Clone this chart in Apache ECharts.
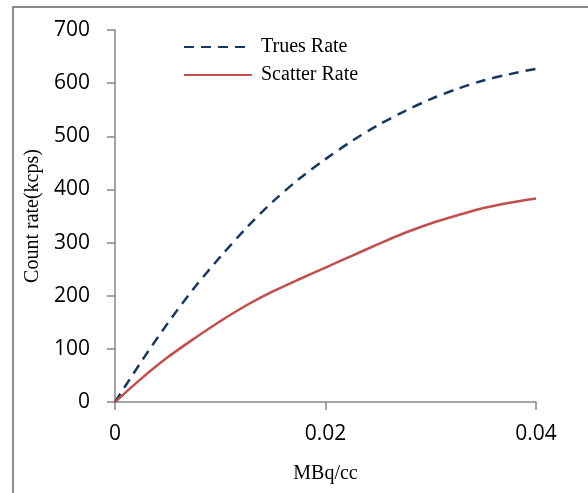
<!DOCTYPE html>
<html>
<head>
<meta charset="utf-8">
<script src="https://cdn.jsdelivr.net/npm/echarts@6/dist/echarts.min.js"></script>
<style>
  html, body { margin: 0; padding: 0; background: #fff; }
  #chart { width: 588px; height: 493px; }
</style>
</head>
<body>
<div id="chart"></div>
<script>
// activity (MBq/cc)
var activity = [0, 0.0025, 0.005, 0.0075, 0.01, 0.0125, 0.015, 0.0175, 0.02,
                0.0225, 0.025, 0.0275, 0.03, 0.0325, 0.035, 0.0375, 0.04];
// count rates (kcps)
var truesRate = [0, 76, 148, 214, 273, 328, 377, 420, 457, 491, 521, 547, 570, 589, 605, 617, 627];
var scatterRate = [0, 44, 84, 119, 152, 182, 208, 231, 253, 275, 297, 318, 336, 351, 365, 375, 383];
var xTicks = [0, 0.02, 0.04];
var yTicks = [0, 100, 200, 300, 400, 500, 600, 700];

function pairs(xs, ys) {
    var out = [];
    for (var i = 0; i < xs.length; i++) {
        out.push([xs[i], ys[i]]);
    }
    return out;
}

var myChart = echarts.init(document.getElementById('chart'));
var axisGray = '#868686';

var option = {
    backgroundColor: '#fff',
    animation: false,
    // outer frame, only left and top edges are visible
    graphic: [{
        type: 'rect',
        shape: { x: 13, y: 7, width: 800, height: 800 },
        style: { fill: 'none', stroke: '#8c8c8c', lineWidth: 2 }
    }],
    grid: { left: 115, right: 52, top: 30, bottom: 91 },
    legend: {
        orient: 'vertical',
        left: 178,
        top: 32,
        itemWidth: 68,
        itemHeight: 14,
        itemGap: 8,
        itemStyle: { opacity: 0 },
        textStyle: { fontFamily: 'Liberation Serif', fontSize: 20, color: '#000', padding: [0, 0, 0, 4] },
        data: ['Trues Rate', 'Scatter Rate']
    },
    xAxis: {
        type: 'value',
        min: xTicks[0],
        max: xTicks[xTicks.length - 1],
        interval: 0.02,
        name: 'MBq/cc',
        nameLocation: 'middle',
        nameGap: 62,
        nameTextStyle: { fontFamily: 'Liberation Serif', fontSize: 20, color: '#000' },
        axisLine: { lineStyle: { color: axisGray, width: 1.5 } },
        axisTick: { show: true, length: 8, lineStyle: { color: axisGray, width: 1.5 } },
        axisLabel: { margin: 22, fontFamily: 'Open Sans', fontSize: 21, color: '#000' },
        splitLine: { show: false }
    },
    yAxis: {
        type: 'value',
        min: yTicks[0],
        max: yTicks[yTicks.length - 1],
        interval: 100,
        name: 'Count rate(kcps)',
        nameLocation: 'middle',
        nameGap: 66,
        nameTextStyle: { fontFamily: 'Liberation Serif', fontSize: 20, color: '#000' },
        axisLine: { show: true, lineStyle: { color: axisGray, width: 1.5 } },
        axisTick: { show: true, length: 8, lineStyle: { color: axisGray, width: 1.5 } },
        axisLabel: { margin: 25, fontFamily: 'Open Sans', fontSize: 21, color: '#000' },
        splitLine: { show: false }
    },
    series: [
        {
            name: 'Trues Rate',
            type: 'line',
            smooth: 0.3,
            symbol: 'none',
            data: pairs(activity, truesRate),
            lineStyle: { color: '#17375E', width: 2.5, type: [10, 7] },
            itemStyle: { color: '#17375E' }
        },
        {
            name: 'Scatter Rate',
            type: 'line',
            smooth: 0.3,
            symbol: 'none',
            data: pairs(activity, scatterRate),
            lineStyle: { color: '#C0504D', width: 2.5 },
            itemStyle: { color: '#C0504D' }
        }
    ]
};
myChart.setOption(option);
</script>
</body>
</html>
